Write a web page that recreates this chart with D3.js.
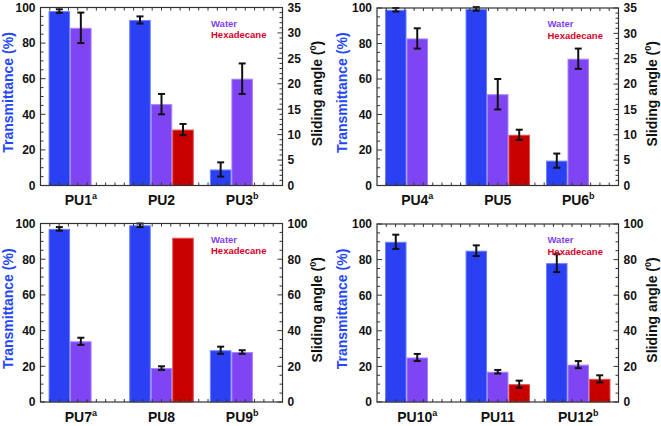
<!DOCTYPE html>
<html><head><meta charset="utf-8">
<script src="https://cdn.jsdelivr.net/npm/d3@7/dist/d3.min.js"></script>
<style>body{margin:0;background:#fff}svg{display:block;font-family:"Liberation Sans",Arial,sans-serif;font-weight:bold}</style>
</head><body><svg id="c" width="661" height="426"></svg>
<script>
// ---- data ----
const cats1 = ["PU1","PU2","PU3"], sup1 = ["a","","b"];
const trans1 = [98, 93, 9], transErr1 = [1, 2, 4];
const water1 = [31, 16, 21], waterErr1 = [3, 2, 3];
const hexa1 = [null, 11, null], hexaErr1 = [null, 1.1, null];

const cats2 = ["PU4","PU5","PU6"], sup2 = ["a","","b"];
const trans2 = [99, 99.5, 14], transErr2 = [1, 1, 4];
const water2 = [29, 18, 25], waterErr2 = [2, 3, 2];
const hexa2 = [null, 10, null], hexaErr2 = [null, 1, null];

const cats3 = ["PU7","PU8","PU9"], sup3 = ["a","","b"];
const trans3 = [97, 99, 29], transErr3 = [1, 1, 2];
const water3 = [34, 19, 28], waterErr3 = [2, 1, 1];
const hexa3 = [null, 92, null], hexaErr3 = [null, null, null];

const cats4 = ["PU10","PU11","PU12"], sup4 = ["a","","b"];
const trans4 = [90, 85, 78], transErr4 = [4, 3, 5];
const water4 = [25, 17, 21], waterErr4 = [2, 1, 2];
const hexa4 = [null, 10, 13], hexaErr4 = [null, 2, 2];

const leftTicks = [0, 20, 40, 60, 80, 100];
const rightTicks35 = [0, 5, 10, 15, 20, 25, 30, 35];
const rightTicks100 = [0, 20, 40, 60, 80, 100];
const legendLabels = ["Water", "Hexadecane"];
const leftTitle = "Transmittance (%)";
const rightTitle = "Sliding angle (";

// ---- style ----
const C = {blue:"#2b3ff3", blueEdge:"#6a80ff", purple:"#8045f2", purpleEdge:"#a484ff",
  red:"#c80000", redEdge:"#e04a4a", axisBlue:"#2346ff", waterText:"#7f3ff5", hexText:"#d8002a"};

const panels = [
  {x0:40.5, x1:282.5, y0:7.5, y1:185.5, cats:cats1, sup:sup1, t:trans1, te:transErr1, w:water1, we:waterErr1, h:hexa1, he:hexaErr1, rMax:35, rTicks:rightTicks35, rMinor:1, lOff:-32.5, rOff:35},
  {x0:377, x1:618.5, y0:8, y1:185.5, cats:cats2, sup:sup2, t:trans2, te:transErr2, w:water2, we:waterErr2, h:hexa2, he:hexaErr2, rMax:35, rTicks:rightTicks35, rMinor:1, lOff:-35, rOff:33.5},
  {x0:40.5, x1:282.5, y0:223.5, y1:402, cats:cats3, sup:sup3, t:trans3, te:transErr3, w:water3, we:waterErr3, h:hexa3, he:hexaErr3, rMax:100, rTicks:rightTicks100, rMinor:5, lOff:-32.5, rOff:35},
  {x0:377, x1:618.5, y0:224, y1:402, cats:cats4, sup:sup4, t:trans4, te:transErr4, w:water4, we:waterErr4, h:hexa4, he:hexaErr4, rMax:100, rTicks:rightTicks100, rMinor:5, lOff:-35, rOff:33.5}
];

const svg = d3.select("#c");

panels.forEach(p => {
  const g = svg.append("g");
  const x = d3.scaleBand().domain(p.cats).range([p.x0, p.x1]).paddingInner(0.2).paddingOuter(0.1);
  const slot = d3.scaleBand().domain([0,1,2]).range([0, x.bandwidth()]);
  const yL = d3.scaleLinear().domain([0,100]).range([p.y1, p.y0]);
  const yR = d3.scaleLinear().domain([0,p.rMax]).range([p.y1, p.y0]);

  const series = [
    {vals:p.t, errs:p.te, s:0, y:yL, fill:C.blue, edge:C.blueEdge},
    {vals:p.w, errs:p.we, s:1, y:yR, fill:C.purple, edge:C.purpleEdge},
    {vals:p.h, errs:p.he, s:2, y:yR, fill:C.red, edge:C.redEdge}
  ];
  series.forEach(se => {
    p.cats.forEach((c,i) => {
      const v = se.vals[i];
      if (v == null) return;
      const bx = x(c) + slot(se.s);
      g.append("rect").attr("x", bx+0.5).attr("y", se.y(v)+0.5)
        .attr("width", slot.bandwidth()-1).attr("height", se.y(0)-se.y(v)-0.5)
        .attr("fill", se.fill).attr("stroke", se.edge).attr("stroke-width", 1);
    });
  });
  // error bars
  series.forEach(se => {
    p.cats.forEach((c,i) => {
      const v = se.vals[i], e = se.errs[i];
      if (v == null || e == null) return;
      const cx = x(c) + slot(se.s) + slot.bandwidth()/2;
      const ya = se.y(v+e), yb = se.y(v-e);
      g.append("line").attr("x1",cx).attr("x2",cx).attr("y1",ya).attr("y2",yb).attr("stroke","#111").attr("stroke-width",2);
      [ya,yb].forEach(yy => g.append("line").attr("x1",cx-3.5).attr("x2",cx+3.5).attr("y1",yy).attr("y2",yy).attr("stroke","#111").attr("stroke-width",2));
    });
  });

  // frame
  g.append("rect").attr("x",p.x0).attr("y",p.y0).attr("width",p.x1-p.x0).attr("height",p.y1-p.y0)
    .attr("fill","none").attr("stroke","#333").attr("stroke-width",1.2);

  // left axis ticks (inward)
  const lMinor = d3.range(0, 100.001, 5);
  lMinor.forEach(v => {
    const major = v % 20 === 0;
    g.append("line").attr("x1",p.x0).attr("x2",p.x0+(major?5:3)).attr("y1",yL(v)).attr("y2",yL(v)).attr("stroke","#333").attr("stroke-width",1);
  });
  const rMinorVals = d3.range(0, p.rMax+0.001, p.rMinor);
  const rStep = p.rTicks[1]-p.rTicks[0];
  rMinorVals.forEach(v => {
    const major = Math.abs(v/rStep - Math.round(v/rStep))<1e-6;
    g.append("line").attr("x1",p.x1).attr("x2",p.x1-(major?5:3)).attr("y1",yR(v)).attr("y2",yR(v)).attr("stroke","#333").attr("stroke-width",1);
  });
  // bottom/top ticks
  const xt = d3.scaleLinear().domain([0,26]).range([p.x0,p.x1]);
  d3.range(1,26).forEach(k => {
    g.append("line").attr("x1",xt(k)).attr("x2",xt(k)).attr("y1",p.y1).attr("y2",p.y1-3).attr("stroke","#333").attr("stroke-width",1);
    g.append("line").attr("x1",xt(k)).attr("x2",xt(k)).attr("y1",p.y0).attr("y2",p.y0+3).attr("stroke","#333").attr("stroke-width",1);
  });

  // left tick labels
  leftTicks.forEach(v => g.append("text").attr("x",p.x0-5).attr("y",yL(v)).attr("dy","0.36em")
    .attr("text-anchor","end").attr("font-size",12).attr("fill","#111").text(v));
  p.rTicks.forEach(v => g.append("text").attr("x",p.x1+5).attr("y",yR(v)).attr("dy","0.36em")
    .attr("text-anchor","start").attr("font-size",12).attr("fill","#111").text(v));

  // x labels
  p.cats.forEach((c,i) => {
    const t = g.append("text").attr("x", x(c)+x.bandwidth()/2).attr("y", p.y1+19.5)
      .attr("text-anchor","middle").attr("font-size",14).attr("fill","#111");
    t.append("tspan").text(c);
    if (p.sup[i]) t.append("tspan").attr("font-size",9).attr("dy",-6).text(p.sup[i]);
  });

  // axis titles
  const midY = (p.y0+p.y1)/2;
  g.append("text").attr("transform",`translate(${p.x0+p.lOff},${midY-4}) rotate(-90)`)
    .attr("text-anchor","middle").attr("dy","0.35em").attr("font-size",14).attr("fill",C.axisBlue).text(leftTitle);
  const rt = g.append("text").attr("transform",`translate(${p.x1+p.rOff},${midY-3}) rotate(-90)`)
    .attr("text-anchor","middle").attr("dy","0.35em").attr("font-size",14).attr("fill","#111");
  rt.append("tspan").text(rightTitle);
  rt.append("tspan").attr("font-size",9).attr("dy",-6).text("0");
  rt.append("tspan").attr("dy",6).text(")");

  // legend
  g.append("text").attr("x",p.x0+170.5).attr("y",p.y0+19).attr("font-size",9.5).attr("fill",C.waterText).text(legendLabels[0]);
  g.append("text").attr("x",p.x0+170.5).attr("y",p.y0+30.5).attr("font-size",9.5).attr("fill",C.hexText).text(legendLabels[1]);
});
</script></body></html>
